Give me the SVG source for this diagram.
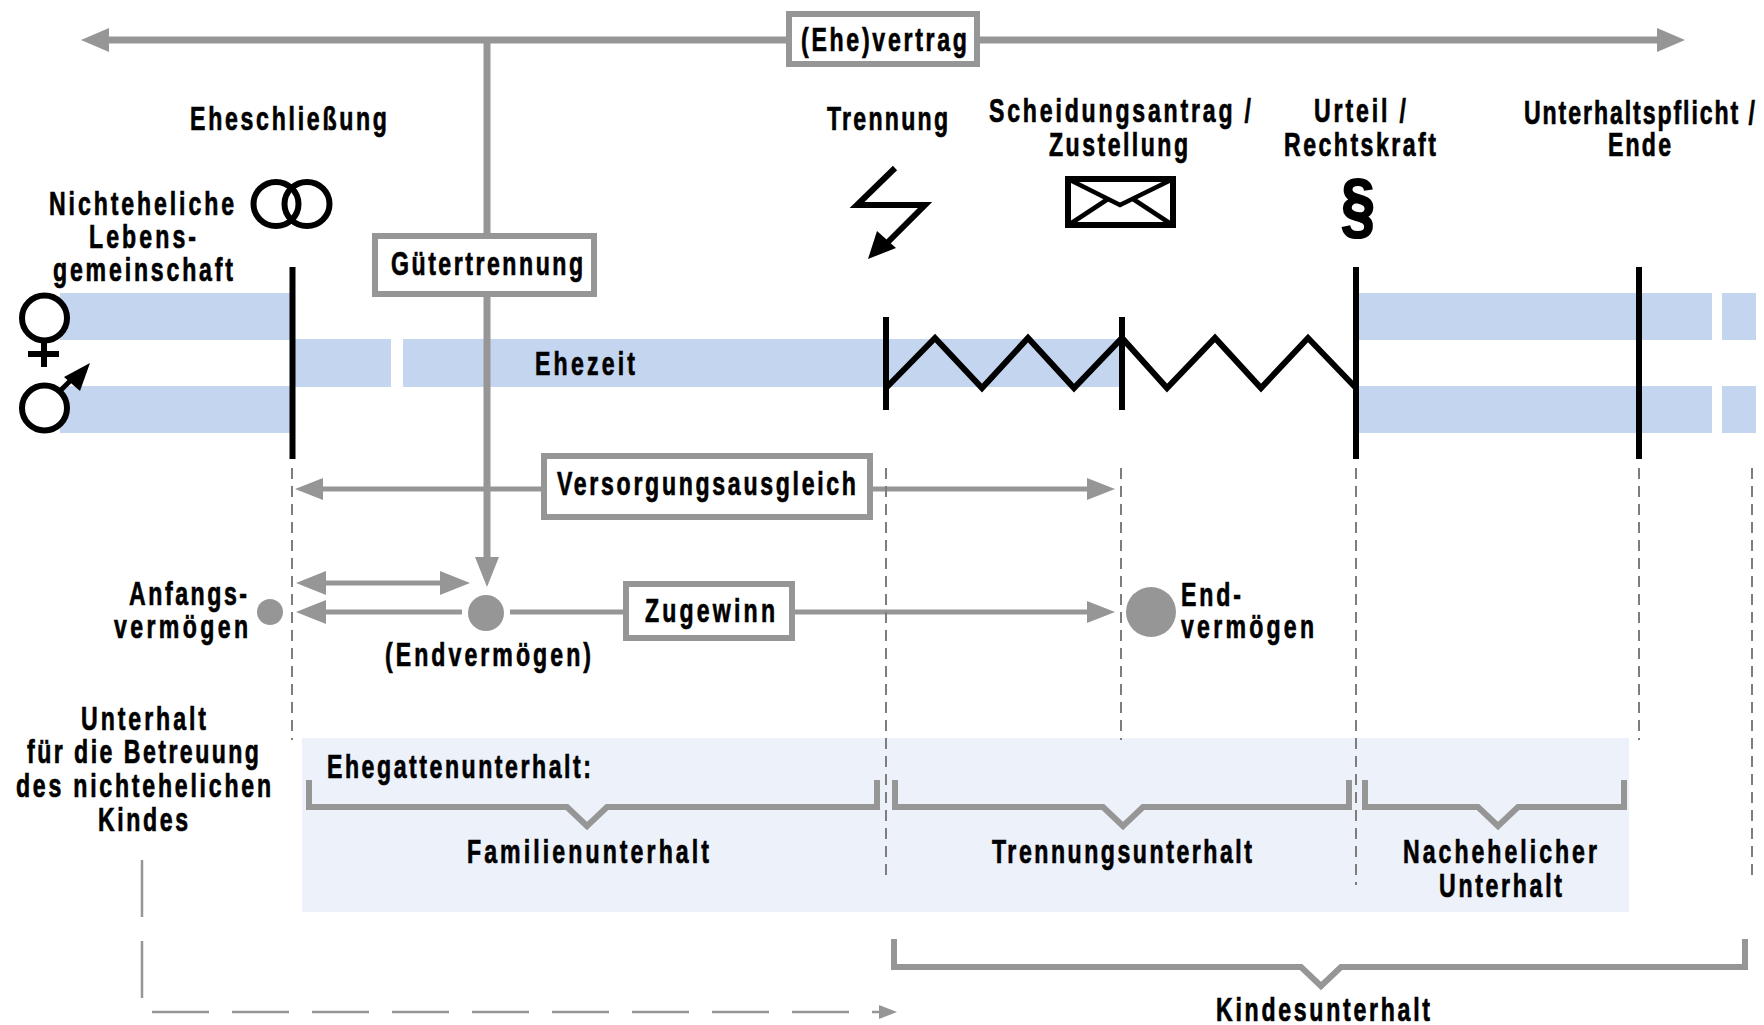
<svg xmlns="http://www.w3.org/2000/svg" width="1764" height="1025" viewBox="0 0 1764 1025">
<style>
text{font-family:"Liberation Sans",Arial,sans-serif;font-weight:700;font-size:33px;fill:#000;stroke:#000;stroke-width:.7px}
.g{stroke:#969696;fill:none}
.t7{stroke-width:7}.t5{stroke-width:5}
.box{fill:#fff;stroke:#969696;stroke-width:6}
.k{stroke:#000;fill:none}
.w{stroke:#000;fill:#fff;stroke-width:6}
.band{fill:#c4d6ef}
.dash{stroke:#7d7d7d;stroke-width:2;stroke-dasharray:11 7;fill:none}
.ah{fill:#969696}
.br{stroke:#969696;stroke-width:6;fill:none;stroke-linejoin:miter}
</style>
<g id="bands">
<rect class="band" x="60" y="293" width="232" height="47"/>
<rect class="band" x="292" y="339" width="99" height="48"/>
<rect class="band" x="403" y="339" width="719" height="48"/>
<rect class="band" x="60" y="386" width="232" height="47"/>
<rect class="band" x="1356" y="293" width="356" height="47"/>
<rect class="band" x="1722" y="293" width="34" height="47"/>
<rect class="band" x="1356" y="386" width="356" height="47"/>
<rect class="band" x="1722" y="386" width="34" height="47"/>
<rect x="302" y="738" width="1327" height="174" fill="#edf1f9"/>
</g>
<g id="connectors">
<path class="g t7" d="M105 40H786M980 40H1660M487 40V233M487 297V560"/>
<path class="ah" d="M81 40L109 28V52Z"/>
<path class="ah" d="M1685 40L1657 28V52Z"/>
<path class="ah" d="M487 587L475 557H499Z"/>
<path class="g t5" d="M320 489H542M872 489H1090"/>
<path class="ah" d="M295 489L323 478V500Z"/>
<path class="ah" d="M1115 489L1087 478V500Z"/>
<path class="g t5" d="M320 583H445"/>
<path class="ah" d="M296 583L326 571V595Z"/>
<path class="ah" d="M470 583L440 571V595Z"/>
<path class="g t5" d="M320 612H462M510 612H624M794 612H1090"/>
<path class="ah" d="M296 612L326 600V624Z"/>
<path class="ah" d="M1115 612L1087 601V623Z"/>
<path class="dash" d="M292 468V740M886 468V875M1121 468V740M1356 468V885M1639 468V740M1752 468V875"/>
<path d="M142 860V998" stroke="#969696" stroke-width="2.500" fill="none" stroke-dasharray="57 24"/>
<path d="M152 1012H880" stroke="#969696" stroke-width="2.500" fill="none" stroke-dasharray="57 23"/>
<path class="ah" d="M897 1012L879 1005V1019Z"/>
<path class="br" d="M309 780V807H567L587 826L607 807H877V780"/>
<path class="br" d="M895 780V807H1103L1123 826L1143 807H1349V780"/>
<path class="br" d="M1365 780V807H1478L1498 826L1518 807H1624V780"/>
<path class="br" d="M894 939V967H1301L1321 986L1341 967H1745V939"/>
</g>
<g id="timeline" class="k">
<path class="k" stroke-width="6" d="M292.500 267V459M886 317V410M1122 317V410M1356 267V459M1639 267V459"/>
<path class="k" stroke-width="6" d="M886 388L935 338L982 388L1028 338L1074 388L1122 338L1167 388L1215 338L1261 388L1308 338L1356 388"/>
</g>
<g id="ehevertrag"><rect class="box" x="789" y="14" width="188" height="50"/><text transform="translate(801 51) scale(.7 1)" textLength="237.100">(Ehe)vertrag</text></g>
<g id="guetertrennung"><rect class="box" x="375" y="236" width="219" height="58"/><text transform="translate(391 275) scale(.7 1)" textLength="274.300">Gütertrennung</text></g>
<g id="versorgungsausgleich"><rect class="box" x="544" y="456" width="326" height="61"/><text transform="translate(557 495) scale(.7 1)" textLength="427.100">Versorgungsausgleich</text></g>
<g id="zugewinn"><rect class="box" x="626" y="584" width="166" height="54"/><text transform="translate(645 622) scale(.7 1)" textLength="185.700">Zugewinn</text></g>
<g id="eheschliessung"><text transform="translate(190 130) scale(.7 1)" textLength="281.400">Eheschließung</text>
<ellipse class="k" stroke-width="6" cx="276" cy="204" rx="22.500" ry="22"/><ellipse class="k" stroke-width="6" cx="307" cy="204" rx="22.500" ry="22"/></g>
<g id="nichteheliche"><text transform="translate(49 215) scale(.7 1)" textLength="264.300">Nichteheliche</text><text transform="translate(89 248) scale(.7 1)" textLength="152.900">Lebens-</text><text transform="translate(53 281) scale(.7 1)" textLength="257.100">gemeinschaft</text></g>
<g id="symbols">
<circle cx="44.500" cy="318" r="22.500" class="w"/>
<path class="k" stroke-width="6" d="M44 342V367M28 354H59"/>
<circle cx="44.500" cy="408" r="22.500" class="w"/>
<path class="k" stroke-width="5" d="M60 391L78 373"/><path d="M90 363L80 391L64 377Z"/>
</g>
<g id="ehezeit"><text transform="translate(535 375) scale(.7 1)" textLength="142.900">Ehezeit</text></g>
<g id="trennung"><text transform="translate(827 130) scale(.7 1)" textLength="172.900">Trennung</text>
<path class="k" stroke-width="6" d="M895 168L857 205H925L885 245"/><path d="M868 259L877 231L896 248Z"/></g>
<g id="scheidung"><text transform="translate(989 122) scale(.7 1)" textLength="374.300">Scheidungsantrag /</text><text transform="translate(1049 156) scale(.7 1)" textLength="198.600">Zustellung</text>
<rect class="k" stroke-width="6" x="1068" y="179" width="105" height="46"/><path class="k" stroke-width="4.500" d="M1070 180L1120 205L1171 180M1070 224L1108 199M1171 224L1133 199"/></g>
<g id="urteil"><text transform="translate(1314 122) scale(.7 1)" textLength="131.400">Urteil /</text><text transform="translate(1284 156) scale(.7 1)" textLength="217.100">Rechtskraft</text>
<text x="1341" y="230" textLength="34" lengthAdjust="spacingAndGlyphs" style="font-size:72px;stroke-width:2px">§</text></g>
<g id="ende"><text transform="translate(1524 124) scale(.7 1)" textLength="330">Unterhaltspflicht /</text><text transform="translate(1608 156) scale(.7 1)" textLength="90">Ende</text></g>
<g id="anfangsvermoegen"><circle class="ah" cx="270" cy="612" r="13"/><text transform="translate(129 605) scale(.7 1)" textLength="168.600">Anfangs-</text><text transform="translate(114 638) scale(.7 1)" textLength="191.400">vermögen</text></g>
<g id="zwischenvermoegen"><circle class="ah" cx="486" cy="613" r="18"/><text transform="translate(385 666) scale(.7 1)" textLength="294.300">(Endvermögen)</text></g>
<g id="endvermoegen"><circle class="ah" cx="1151" cy="612" r="25"/><text transform="translate(1181 606) scale(.7 1)" textLength="85.700">End-</text><text transform="translate(1181 638) scale(.7 1)" textLength="190">vermögen</text></g>
<g id="betreuung"><text transform="translate(81 730) scale(.7 1)" textLength="178.600">Unterhalt</text><text transform="translate(27 763) scale(.7 1)" textLength="331.400">für die Betreuung</text><text transform="translate(16 797) scale(.7 1)" textLength="364.300">des nichtehelichen</text><text transform="translate(98 831) scale(.7 1)" textLength="128.600">Kindes</text></g>
<g id="ehegattenunterhalt"><text transform="translate(327 778) scale(.7 1)" textLength="377.100">Ehegattenunterhalt:</text></g>
<g id="familienunterhalt"><text transform="translate(467 863) scale(.7 1)" textLength="345.700">Familienunterhalt</text></g>
<g id="trennungsunterhalt"><text transform="translate(992 863) scale(.7 1)" textLength="371.400">Trennungsunterhalt</text></g>
<g id="nachehelicher"><text transform="translate(1403 863) scale(.7 1)" textLength="277.100">Nachehelicher</text><text transform="translate(1439 897) scale(.7 1)" textLength="175.700">Unterhalt</text></g>
<g id="kindesunterhalt"><text transform="translate(1216 1021) scale(.7 1)" textLength="305.700">Kindesunterhalt</text></g>
</svg>
